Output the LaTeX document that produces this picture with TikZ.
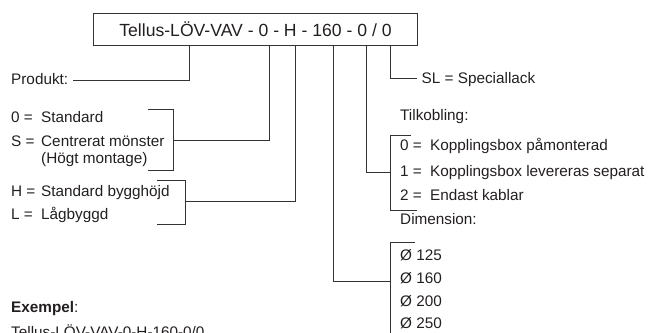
\documentclass[tikz,border=0pt]{standalone}
\usepackage{fontspec}
\setmainfont{Liberation Sans}
\definecolor{ink}{HTML}{231F20}
\definecolor{ln}{HTML}{333333}
\begin{document}
\begin{tikzpicture}[x=1bp,y=-1bp,
  lbl/.style={anchor=base west,inner sep=0pt,text=ink,font=\fontsize{15.3bp}{17bp}\selectfont},
  conn/.style={draw=ln,line width=1bp}]
\useasboundingbox (0,0) rectangle (654,332);
% main box
\node[draw=ln,line width=1bp,minimum width=324bp,minimum height=32bp,anchor=north west,inner sep=0pt,text=ink,font=\fontsize{17.6bp}{19bp}\selectfont] (box) at (93,13) {Tellus-LÖV-VAV - 0 - H - 160 - 0 / 0};
% left labels
\node[lbl] (prod) at (11,84) {Produkt:};
\node[lbl] (k0) at (11,122.5) {0 =};
\node[lbl] (t0) at (41,122.5) {Standard};
\node[lbl] (kS) at (11,146) {S =};
\node[lbl] (tS) at (41,146) {Centrerat mönster};
\node[lbl] (tS2) at (41,163) {(Högt montage)};
\node[lbl] (kH) at (11,196.7) {H =};
\node[lbl] (tH) at (41,196.7) {Standard bygghöjd};
\node[lbl] (kL) at (11,219) {L =};
\node[lbl] (tL) at (41,219) {Lågbyggd};
\node[lbl] (ex) at (11,312) {\textbf{Exempel}:};
\node[lbl] (ex2) at (11,337.5) {Tellus-LÖV-VAV-0-H-160-0/0};
% right labels
\node[lbl] (sl) at (421.5,83.3) {SL = Speciallack};
\node[lbl] (tilk) at (400,120.7) {Tilkobling:};
\node[lbl] (c0) at (400,150.7) {0 =};
\node[lbl] (d0) at (430,150.7) {Kopplingsbox påmonterad};
\node[lbl] (c1) at (400,176.7) {1 =};
\node[lbl] (d1) at (430,176.7) {Kopplingsbox levereras separat};
\node[lbl] (c2) at (400,200) {2 =};
\node[lbl] (d2) at (430,200) {Endast kablar};
\node[lbl] (dim) at (400,224.3) {Dimension:};
\node[lbl] (m1) at (400,260) {Ø 125};
\node[lbl] (m2) at (400,283.3) {Ø 160};
\node[lbl] (m3) at (400,306.7) {Ø 200};
\node[lbl] (m4) at (400,328) {Ø 250};
% coordinates
\coordinate (p1) at (189,80);
\coordinate (p1e) at (73,80);
\coordinate (p2) at (269.3,140);
\coordinate (p2e) at (173,140);
\coordinate (p3) at (295.7,201);
\coordinate (p3e) at (185,201);
\coordinate (p4) at (333.3,281);
\coordinate (p4e) at (390,281);
\coordinate (p5) at (366.7,172);
\coordinate (p5e) at (390,172);
\coordinate (p6) at (390,78);
\coordinate (p6e) at (417,78);
% connectors
\draw[conn] (box.south -| p1) -- (p1) -- (p1e);
\draw[conn] (box.south -| p2) -- (p2) -- (p2e);
\draw[conn] (box.south -| p3) -- (p3) -- (p3e);
\draw[conn] (box.south -| p4) -- (p4) -- (p4e);
\draw[conn] (box.south -| p5) -- (p5) -- (p5e);
\draw[conn] (box.south -| p6) -- (p6) -- (p6e);
% brackets
\draw[conn] (148,109) -- (173,109) -- (173,170) -- (148,170);
\draw[conn] (157,180) -- (185,180) -- (185,224) -- (157,224);
\draw[conn] (411,135) -- (390,135) -- (390,210) -- (417,210);
\draw[conn] (415,242) -- (390,242) -- (390,340);
\end{tikzpicture}
\end{document}
